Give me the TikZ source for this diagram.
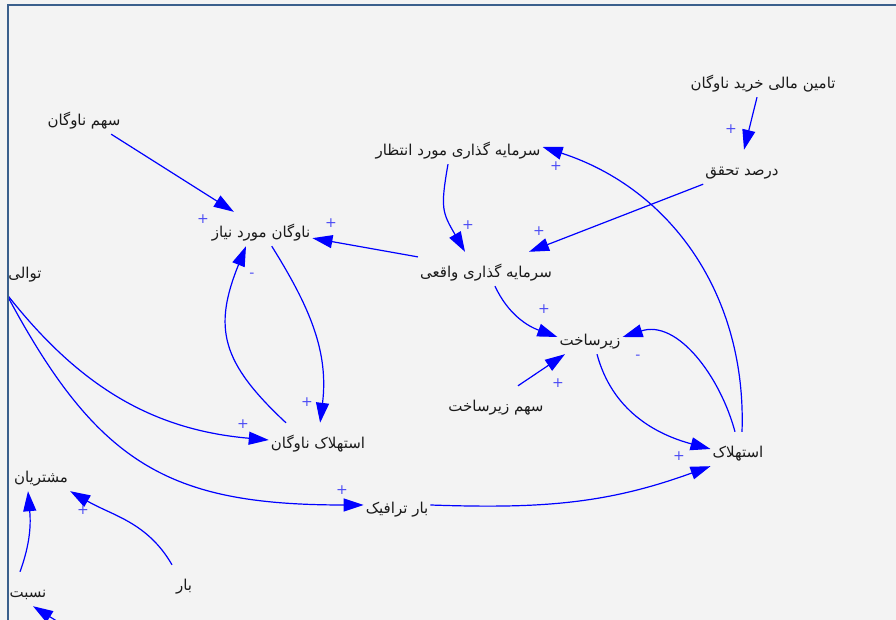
\documentclass[tikz,border=0pt]{standalone}
\usepackage{fontspec}
\usepackage{tikz}
\usetikzlibrary{arrows.meta}
\TeXXeTstate=1
\newfontfamily\arabicfont[Script=Arabic]{DejaVu Sans}
\newcommand{\rtltext}[1]{\beginR#1\endR}
\definecolor{loopblue}{HTML}{0000FF}
\definecolor{signblue}{HTML}{4C4CF5}
\definecolor{canvasgray}{HTML}{F3F3F3}
\definecolor{framedark}{HTML}{3A5F8C}
\definecolor{labelblack}{HTML}{1A1A1A}
\tikzset{
  var/.style={font=\arabicfont\fontsize{15}{17}\selectfont,text=labelblack,
    text height=18pt,text depth=0pt,inner xsep=2pt,inner ysep=8pt},
  link/.style={-{Triangle[length=20pt,width=13pt]},draw=loopblue,line width=1.2pt},
  sign/.style={text=signblue,font=\arabicfont\fontsize{14}{14}\selectfont,inner sep=0pt}
}

\begin{document}
\begin{tikzpicture}[x=1pt,y=1pt]
\useasboundingbox (0,0) rectangle (896,620);
\clip (0,0) rectangle (896,620);
\fill[canvasgray] (0,0) rectangle (896,620);
% variables
\node[var] (fleetshare) at (84,503) {\rtltext{سهم ناوگان}};
\node[var] (fleetneed) at (261,391) {\rtltext{ناوگان مورد نیاز}};
\node[var] (sequence) at (25,350) {\rtltext{توالی}};
\node[var] (expinvest) at (458,473) {\rtltext{سرمایه گذاری مورد انتظار}};
\node[var] (finance) at (763,540) {\rtltext{تامین مالی خرید ناوگان}};
\node[var] (realization) at (742,453) {\rtltext{درصد تحقق}};
\node[var] (realinvest) at (486,351) {\rtltext{سرمایه گذاری واقعی}};
\node[var] (infra) at (590,283) {\rtltext{زیرساخت}};
\node[var] (infrashare) at (496,217) {\rtltext{سهم زیرساخت}};
\node[var] (depr) at (738,171) {\rtltext{استهلاک}};
\node[var] (fleetdepr) at (318,180) {\rtltext{استهلاک ناوگان}};
\node[var] (traffic) at (397,115) {\rtltext{بار ترافیک}};
\node[var] (customers) at (41,146) {\rtltext{مشتریان}};
\node[var] (load) at (184,38) {\rtltext{بار}};
\node[var] (ratio) at (28,31) {\rtltext{نسبت}};
\coordinate (offpage) at (95,-25);
% links
\draw[link] (fleetshare) -- (fleetneed);
\draw[link] (realinvest) -- (fleetneed);
\draw[link] (fleetneed) to[out=-58,in=83] (fleetdepr);
\draw[link] ([xshift=-32pt]fleetdepr.north) to[out=137,in=-112,looseness=1.25] ([xshift=-15pt]fleetneed.south);
\draw[link] ([xshift=-19pt,yshift=-6pt]sequence.south) to[out=-52,in=175] (fleetdepr.west);
\draw[link] ([xshift=-19pt,yshift=-6pt]sequence.south) to[out=-62,in=180,looseness=1.2] (traffic.west);
\draw[link] (traffic.east) to[out=-2,in=200] (depr.south west);
\draw[link] ([xshift=-10pt]expinvest.south) to[out=-100,in=120,looseness=1.3] ([xshift=-21pt]realinvest.north);
\draw[link] (realization.south west) -- ([xshift=43pt]realinvest.north);
\draw[link] ([xshift=-6pt]finance.south) -- ([xshift=2pt]realization.north);
\draw[link] ([xshift=4pt]depr.north) to[out=88,in=-18] (expinvest.east);
\draw[link] ([xshift=9pt]realinvest.south) to[out=-65,in=160] (infra.west);
\draw[link] ([xshift=22pt]infrashare.north) -- ([xshift=-25pt]infra.south);
\draw[link] ([xshift=7pt]infra.south) to[out=-75,in=165] (depr.west);
\draw[link] ([xshift=-3pt]depr.north) to[out=105,in=18] (infra.east);
\draw[link] ([xshift=-12pt]load.north) to[out=120,in=-30] (customers.south east);
\draw[link] ([xshift=-8pt]ratio.north) to[out=70,in=-85] ([xshift=-13pt]customers.south);
\draw[link] (offpage) -- ([xshift=5pt]ratio.south);
% polarities
\node[sign] (p1) at (203,401) {+};
\node[sign] (p2) at (331,397) {+};
\node[sign] (p3) at (307,218) {+};
\node[sign] (p4) at (252,345) {-};
\node[sign] (p5) at (243,196) {+};
\node[sign] (p6) at (342,130) {+};
\node[sign] (p7) at (679,164) {+};
\node[sign] (p8) at (468,395) {+};
\node[sign] (p9) at (539,389) {+};
\node[sign] (p10) at (731,491) {+};
\node[sign] (p11) at (556,454) {+};
\node[sign] (p12) at (544,311) {+};
\node[sign] (p13) at (558,237) {+};
\node[sign] (p14) at (638,263) {-};
\node[sign] (p15) at (83,110) {+};
% frame of the sketch
\fill[canvasgray] (0,-10) rectangle (7,620);
\draw[framedark,line width=1.6pt] (8,-10) -- (8,615) -- (910,615);
\end{tikzpicture}
\end{document}
